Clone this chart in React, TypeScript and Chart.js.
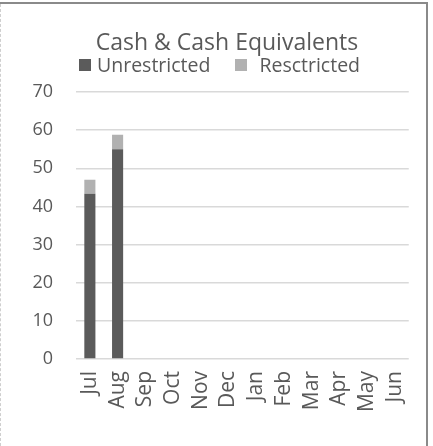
import React, { useEffect, useRef } from "react";
import { Chart, registerables } from "chart.js";

Chart.register(...registerables);

const months = ["Jul", "Aug", "Sep", "Oct", "Nov", "Dec", "Jan", "Feb", "Mar", "Apr", "May", "Jun"];
const unrestricted = [43.3, 55.0, null, null, null, null, null, null, null, null, null, null];
const restricted = [3.7, 3.8, null, null, null, null, null, null, null, null, null, null];
const yTicks = [0, 10, 20, 30, 40, 50, 60, 70];
const titleText = "Cash & Cash Equivalents";
const seriesNames = ["Unrestricted", "Resctricted"];
const seriesColors = ["#5b5b5b", "#b1b1b1"];

const FONT = "'Open Sans', sans-serif";
const TEXT = "#595959";

export default function App() {
  const ref = useRef<HTMLCanvasElement | null>(null);

  useEffect(() => {
    document.body.style.margin = "0";
    const canvas = ref.current;
    if (!canvas) return;
    const chart = new Chart(canvas, {
      type: "bar",
      data: {
        labels: months,
        datasets: [
          {
            label: seriesNames[0],
            data: unrestricted,
            backgroundColor: seriesColors[0],
            barPercentage: 0.4,
            categoryPercentage: 1,
          },
          {
            label: seriesNames[1],
            data: restricted,
            backgroundColor: seriesColors[1],
            barPercentage: 0.4,
            categoryPercentage: 1,
          },
        ],
      },
      options: {
        animation: false,
        responsive: false,
        devicePixelRatio: 1,
        layout: { padding: { left: 0, right: 22, top: 92, bottom: 0 } },
        plugins: {
          title: { display: false },
          legend: { display: false },
          tooltip: { enabled: false },
        },
        scales: {
          x: {
            stacked: true,
            grid: { display: false, drawTicks: false },
            border: { display: false },
            ticks: {
              color: TEXT,
              font: { family: FONT, size: 21 },
              maxRotation: 90,
              minRotation: 90,
              autoSkip: false,
              padding: 12,
            },
            afterFit: (s: any) => {
              s.height = 87;
            },
          },
          y: {
            stacked: true,
            min: 0,
            max: 70,
            afterBuildTicks: (s: any) => {
              s.ticks = yTicks.map((v) => ({ value: v }));
            },
            grid: { color: "#d9d9d9", lineWidth: 1.5, drawTicks: false },
            border: { display: false },
            ticks: {
              color: TEXT,
              font: { family: FONT, size: 18 },
              padding: 23,
            },
            afterFit: (s: any) => {
              s.width = 76;
            },
          },
        },
      },
    });
    return () => chart.destroy();
  }, []);

  const textGaps = [6, 12];

  return (
    <div style={{ position: "relative", width: 433, height: 446, background: "#fff", fontFamily: FONT, color: TEXT }}>
      <canvas ref={ref} width={433} height={446} style={{ display: "block" }} />
      <div
        style={{
          position: "absolute",
          left: 227,
          top: 30,
          transform: "translateX(-50%)",
          fontSize: 23,
          lineHeight: 1,
          whiteSpace: "nowrap",
        }}
      >
        {titleText}
      </div>
      <div
        style={{
          position: "absolute",
          left: 79,
          top: 55,
          display: "flex",
          alignItems: "center",
          gap: 25,
          fontSize: 19.5,
          lineHeight: 1,
          whiteSpace: "nowrap",
        }}
      >
        {seriesNames.map((name, i) => (
          <div key={name} style={{ display: "flex", alignItems: "center" }}>
            <span
              style={{
                display: "inline-block",
                width: 12,
                height: 12,
                background: seriesColors[i],
                marginRight: textGaps[i],
              }}
            />
            <span>{name}</span>
          </div>
        ))}
      </div>
      <div style={{ position: "absolute", left: 0, top: 2, width: 428, height: 2, background: "#8a8a8a" }} />
      <div style={{ position: "absolute", left: 426, top: 2, width: 2, height: 444, background: "#8a8a8a" }} />
      <div style={{ position: "absolute", left: 0, top: 4, width: 0, height: 442, borderLeft: "1px dashed #cfcfcf" }} />
    </div>
  );
}
